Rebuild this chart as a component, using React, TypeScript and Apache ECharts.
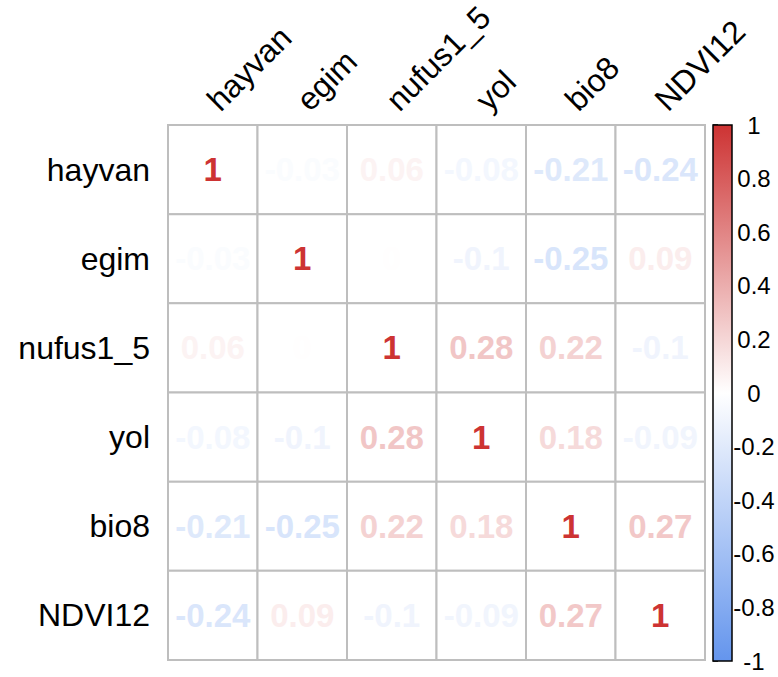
import React, { useEffect, useRef } from "react";
import * as echarts from "echarts";

const variables = ["hayvan", "egim", "nufus1_5", "yol", "bio8", "NDVI12"];
const rowHayvan = [1, -0.03, 0.06, -0.08, -0.21, -0.24];
const rowEgim = [-0.03, 1, 0.004, -0.1, -0.25, 0.09];
const rowNufus = [0.06, 0.004, 1, 0.28, 0.22, -0.1];
const rowYol = [-0.08, -0.1, 0.28, 1, 0.18, -0.09];
const rowBio8 = [-0.21, -0.25, 0.22, 0.18, 1, 0.27];
const rowNdvi = [-0.24, 0.09, -0.1, -0.09, 0.27, 1];
const corrRows = [rowHayvan, rowEgim, rowNufus, rowYol, rowBio8, rowNdvi];
const legendRange = [-1, 1];
const legendColors = ["#6495ED", "#FFFFFF", "#CD3333"];

const FONT = '"Liberation Sans", Arial, Helvetica, sans-serif';
const GRID_LEFT = 168;
const GRID_TOP = 125;
const GRID_W = 537;
const GRID_H = 535;

function hexToRgb(h: string) {
  return [
    parseInt(h.slice(1, 3), 16),
    parseInt(h.slice(3, 5), 16),
    parseInt(h.slice(5, 7), 16),
  ];
}

function colorFor(v: number) {
  const w = hexToRgb(legendColors[1]);
  const end = hexToRgb(v >= 0 ? legendColors[2] : legendColors[0]);
  const t = Math.min(1, Math.abs(v));
  const c = w.map((wc, k) => Math.round(wc + (end[k] - wc) * t));
  return `rgb(${c[0]},${c[1]},${c[2]})`;
}

function fmt(v: number) {
  return String(Math.round(v * 100) / 100);
}

export default function App() {
  const ref = useRef<HTMLDivElement>(null);
  useEffect(() => {
    if (!ref.current) return;
    const chart = echarts.init(ref.current, null, { renderer: "svg" });
    const cellData: number[][] = [];
    corrRows.forEach((row, i) => {
      row.forEach((v, j) => cellData.push([j, i, v]));
    });
    const colData = variables.map((_, j) => [j, 0]);

    chart.setOption({
      animation: false,
      backgroundColor: "#ffffff",
      grid: [
        { left: GRID_LEFT, top: GRID_TOP, width: GRID_W, height: GRID_H },
        { left: 713, top: 125, width: 19, height: 536 },
      ],
      xAxis: [
        {
          type: "category",
          gridIndex: 0,
          data: variables,
          position: "top",
          axisLine: { show: false },
          axisTick: { show: false },
          axisLabel: { show: false },
          splitLine: { show: false },
        },
        { type: "value", gridIndex: 1, min: 0, max: 1, show: false },
      ],
      yAxis: [
        {
          type: "category",
          gridIndex: 0,
          data: variables,
          inverse: true,
          axisLine: { show: false },
          axisTick: { show: false },
          axisLabel: {
            fontSize: 32,
            fontFamily: FONT,
            color: "#000",
            margin: 18,
          },
          splitLine: { show: false },
        },
        {
          type: "value",
          gridIndex: 1,
          min: legendRange[0],
          max: legendRange[1],
          interval: 0.2,
          position: "right",
          axisLine: { show: false },
          axisTick: {
            show: true,
            length: 5,
            lineStyle: { color: "#000", width: 1.5 },
          },
          axisLabel: {
            fontSize: 24,
            fontFamily: FONT,
            color: "#000",
            align: "center",
            margin: 22,
            formatter: (v: number) => String(Math.round(v * 10) / 10),
          },
          splitLine: { show: false },
        },
      ],
      series: [
        {
          type: "custom",
          xAxisIndex: 0,
          yAxisIndex: 0,
          clip: false,
          data: cellData,
          renderItem: (params: any, api: any) => {
            const x = api.value(0);
            const y = api.value(1);
            const v = api.value(2);
            const c = api.coord([x, y]);
            const s = api.size([1, 1]);
            return {
              type: "group",
              children: [
                {
                  type: "rect",
                  shape: {
                    x: c[0] - s[0] / 2,
                    y: c[1] - s[1] / 2,
                    width: s[0],
                    height: s[1],
                  },
                  style: { fill: "#fff", stroke: "#BEBEBE", lineWidth: 2 },
                },
                {
                  type: "text",
                  style: {
                    text: fmt(v),
                    x: c[0],
                    y: c[1],
                    align: "center",
                    verticalAlign: "middle",
                    fill: colorFor(v),
                    font: `bold 33px ${FONT}`,
                  },
                },
              ],
            };
          },
        },
        {
          type: "custom",
          xAxisIndex: 0,
          yAxisIndex: 0,
          clip: false,
          data: colData,
          renderItem: (params: any, api: any) => {
            const j = api.value(0);
            const c = api.coord([j, 0]);
            return {
              type: "text",
              x: c[0],
              y: GRID_TOP - 20,
              rotation: Math.PI / 4,
              style: {
                text: variables[j],
                x: 0,
                y: 0,
                align: "left",
                verticalAlign: "middle",
                fill: "#000",
                font: `32px ${FONT}`,
              },
            };
          },
        },
        {
          type: "custom",
          xAxisIndex: 1,
          yAxisIndex: 1,
          clip: false,
          data: [[0, legendRange[1]]],
          renderItem: (params: any, api: any) => {
            const p1 = api.coord([0, legendRange[1]]);
            const p2 = api.coord([1, legendRange[0]]);
            return {
              type: "rect",
              shape: {
                x: p1[0],
                y: p1[1],
                width: p2[0] - p1[0],
                height: p2[1] - p1[1],
              },
              style: {
                fill: new echarts.graphic.LinearGradient(0, 0, 0, 1, [
                  { offset: 0, color: legendColors[2] },
                  { offset: 0.5, color: legendColors[1] },
                  { offset: 1, color: legendColors[0] },
                ]),
                stroke: "#000",
                lineWidth: 1.5,
              },
            };
          },
        },
      ],
    });
    return () => chart.dispose();
  }, []);
  return (
    <div
      ref={ref}
      style={{ position: "fixed", left: 0, top: 0, width: 778, height: 677 }}
    />
  );
}
